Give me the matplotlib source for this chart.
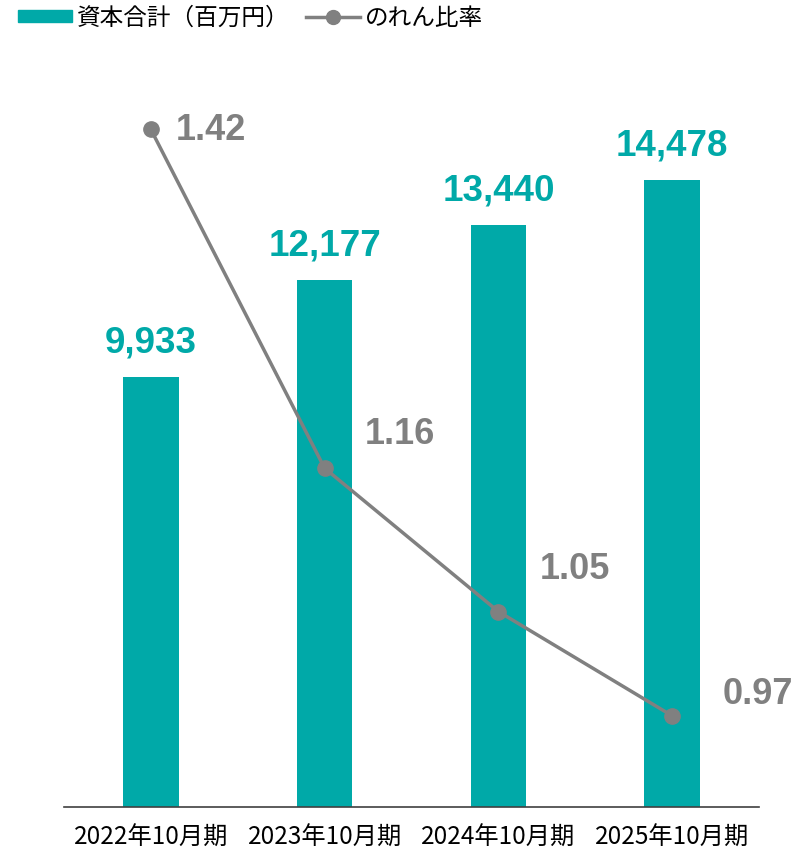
import matplotlib
matplotlib.use("Agg")
import matplotlib.pyplot as plt
from matplotlib.lines import Line2D
from matplotlib.patches import Patch

categories = ["2022年10月期", "2023年10月期", "2024年10月期", "2025年10月期"]
capital = [9933, 12177, 13440, 14478]
goodwill_ratio = [1.42, 1.16, 1.05, 0.97]
capital_labels = ["9,933", "12,177", "13,440", "14,478"]
ratio_labels = ["1.42", "1.16", "1.05", "0.97"]

TEAL = "#00A9A8"
GRAY = "#808080"
JP = ["Liberation Sans", "Noto Sans CJK JP"]
JPN = ["Liberation Sans Narrow", "Noto Sans CJK JP"]

W, H = 810, 851
fig = plt.figure(figsize=(W / 100, H / 100), dpi=100)
left, right, bottom, top = 64, 759, 807, 70
ax = fig.add_axes([left / W, 1 - bottom / H, (right - left) / W, (bottom - top) / H])
x = list(range(len(categories)))
ax.bar(x, capital, width=0.32, color=TEAL, zorder=2)
ax.set_xlim(-0.5, 3.5)
ax.set_ylim(0, 17025)
for s in ["top", "right", "left"]:
    ax.spines[s].set_visible(False)
ax.spines["bottom"].set_color("#404040")
ax.spines["bottom"].set_linewidth(1.2)
ax.set_yticks([])
ax.set_xticks(x)
ax.set_xticklabels(categories, fontsize=17.5, family=JPN)
ax.tick_params(axis="x", length=0, pad=13)
for xi, v, lab in zip(x, capital, capital_labels):
    ax.annotate(lab, (xi, v), xytext=(0, 12), textcoords="offset points",
                ha="center", va="bottom", fontsize=26.5, fontweight="bold",
                color=TEAL, family="Liberation Sans")

ax2 = ax.twinx()
ax2.set_ylim(0.9, 0.9 + (bottom - top) / 1303)
ax2.plot(x, goodwill_ratio, color=GRAY, lw=2.5, marker="o", ms=11, zorder=3)
ax2.axis("off")
offsets = [(18, -1), (29, 24), (30, 30), (36, 15)]
for xi, v, lab, off in zip(x, goodwill_ratio, ratio_labels, offsets):
    ax2.annotate(lab, (xi, v), xytext=off, textcoords="offset points",
                 ha="left", va="center", fontsize=26, fontweight="bold",
                 color=GRAY, family="Liberation Sans")

handles = [Patch(color=TEAL),
           Line2D([0], [0], color=GRAY, lw=2.5, marker="o", ms=10)]
fig.legend(handles, ["資本合計（百万円）", "のれん比率"], loc="upper left",
           bbox_to_anchor=(0.013, 1.0), ncol=2, frameon=False, borderpad=0.3,
           borderaxespad=0.0,
           prop={"family": JP, "size": 17}, handlelength=2.3, handleheight=0.45,
           columnspacing=0.7, handletextpad=0.2)

fig.savefig("out.png", dpi=100)
